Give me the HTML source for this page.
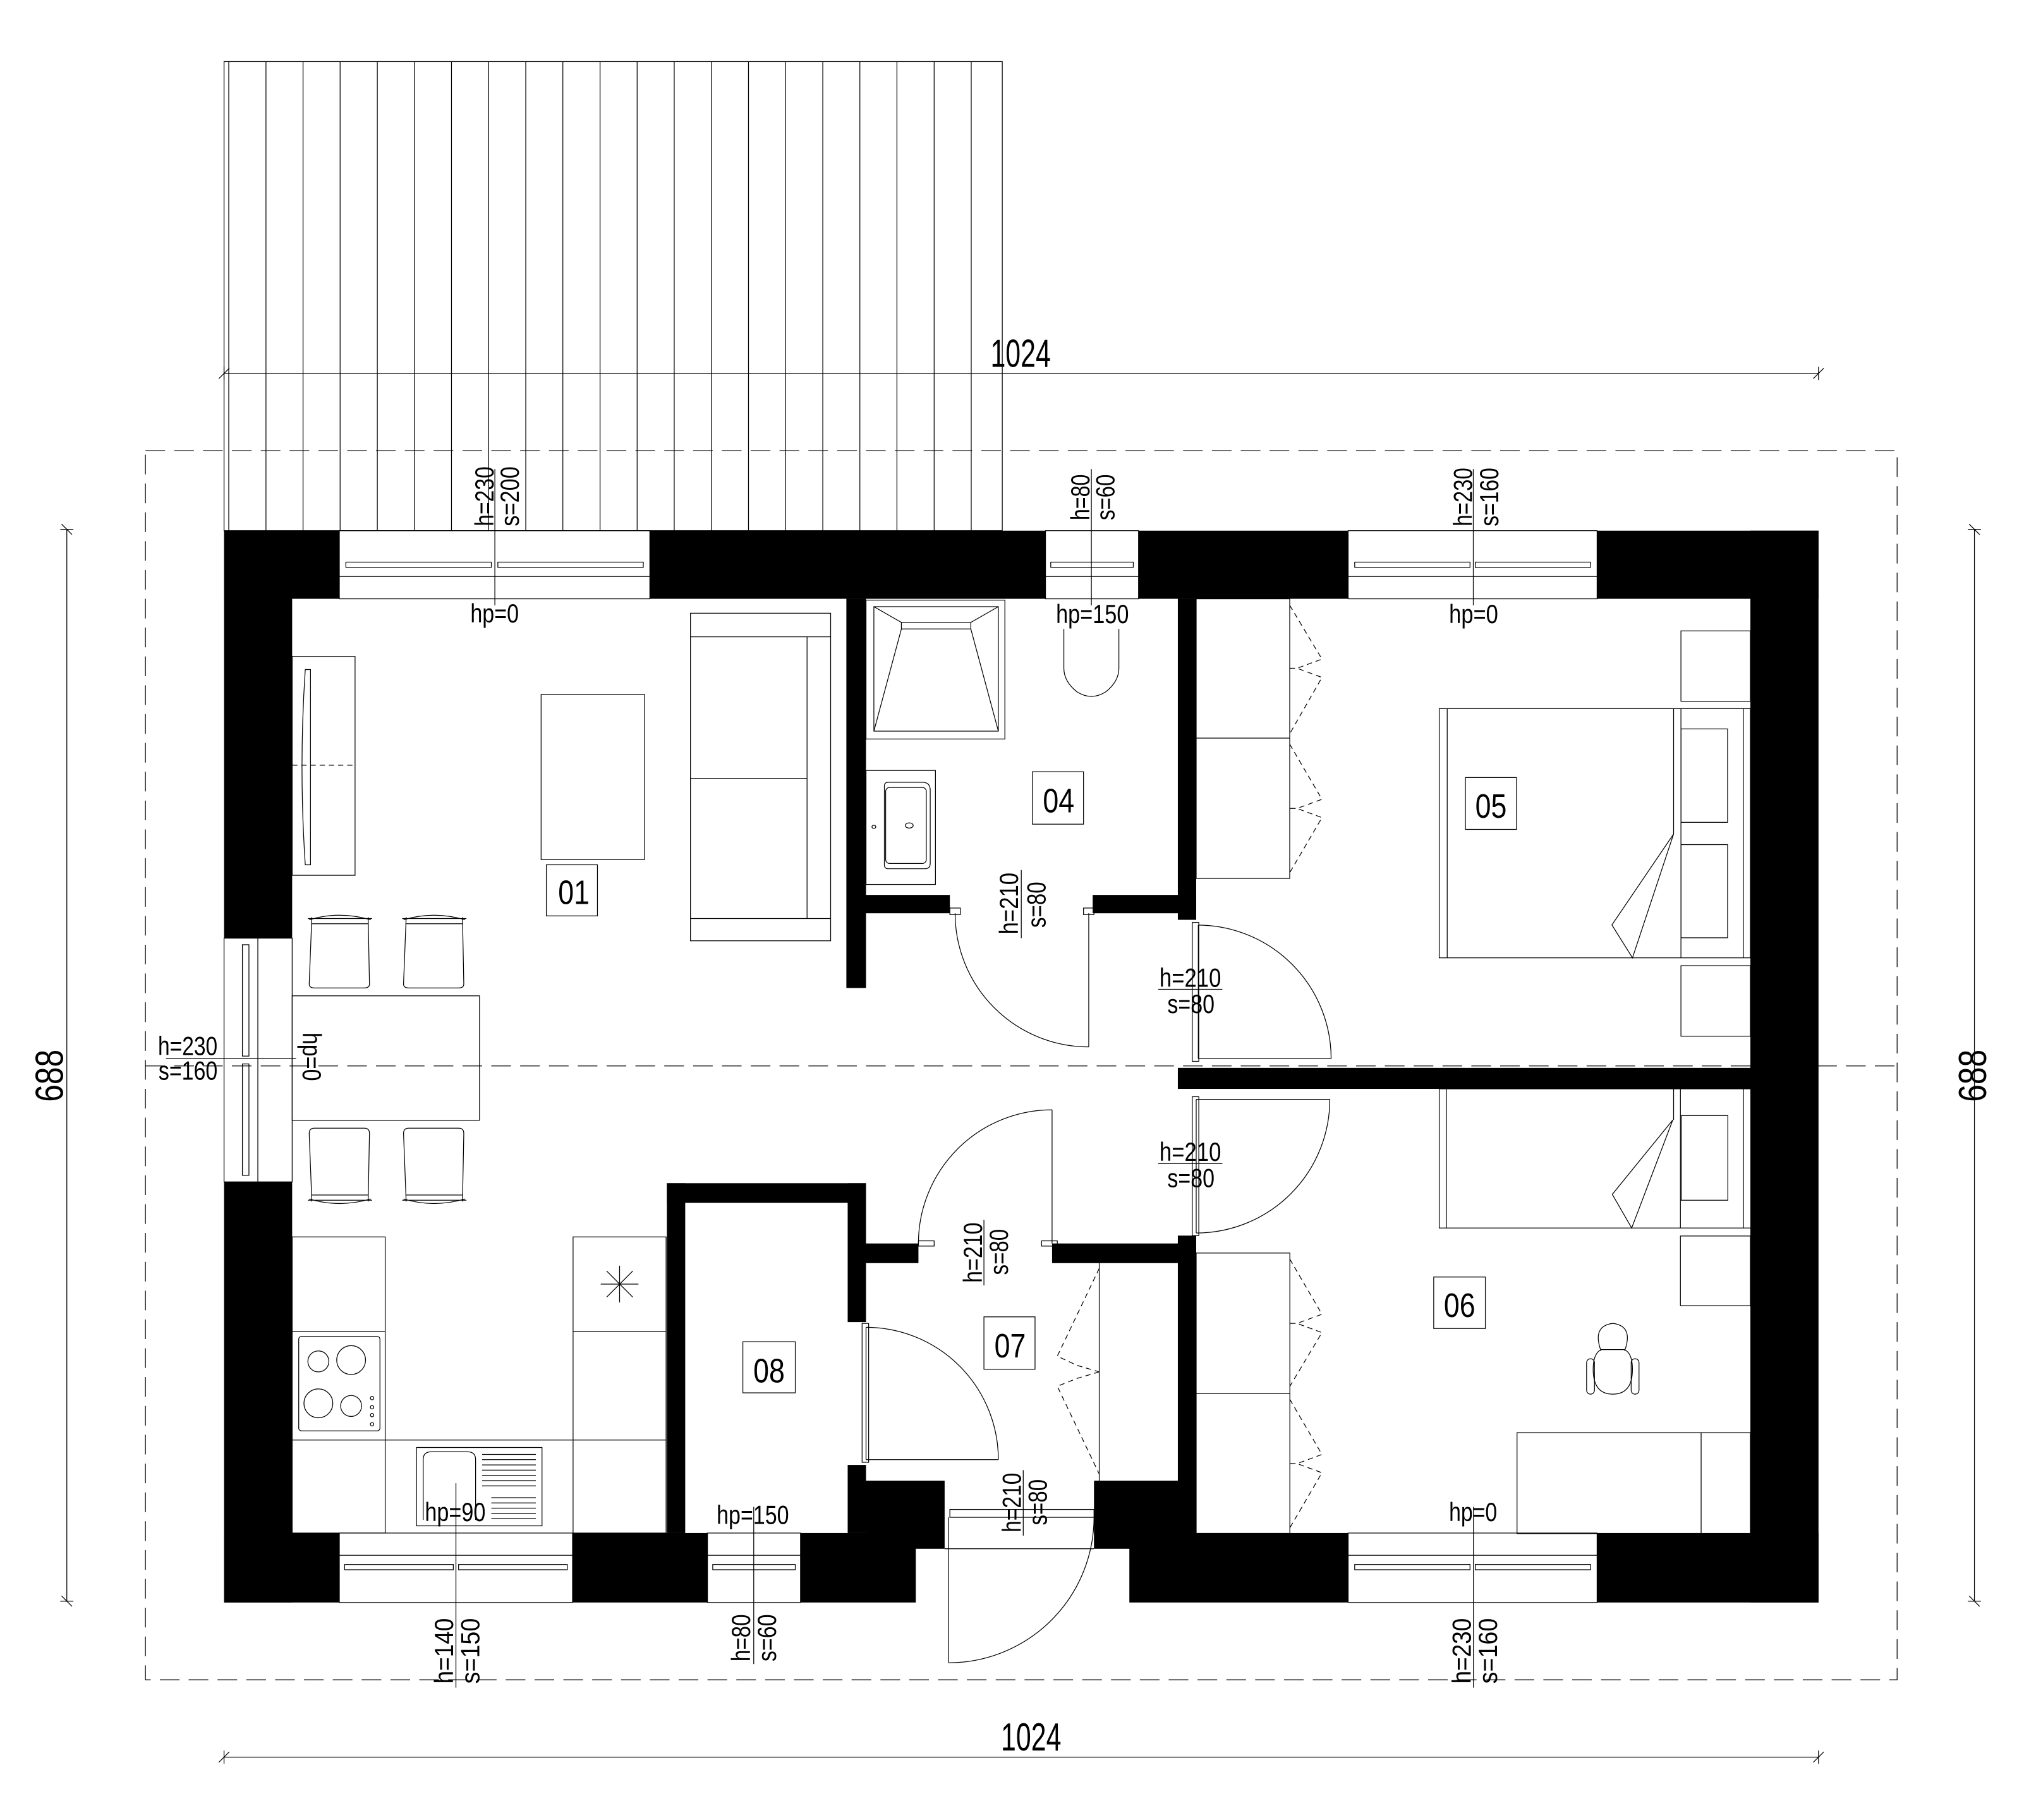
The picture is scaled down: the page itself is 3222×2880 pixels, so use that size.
<!DOCTYPE html>
<html><head><meta charset="utf-8"><style>
html,body{margin:0;padding:0;background:#fff;}
svg{display:block;}
text{font-family:"Liberation Sans Narrow","Liberation Sans",sans-serif;fill:#000;}
</style></head><body>
<svg xmlns="http://www.w3.org/2000/svg" width="3222" height="2880" viewBox="0 0 1554 1389" preserveAspectRatio="none">
<rect width="1554" height="1389" fill="#fff"/>
<g fill="none" stroke="#000" stroke-width="0.6">
<!-- terrace -->
<rect x="171" y="47" width="594" height="358"/>
<g id="tl">
<line x1="174.6" y1="47" x2="174.6" y2="405"/><line x1="203" y1="47" x2="203" y2="405"/><line x1="231.3" y1="47" x2="231.3" y2="405"/><line x1="259.6" y1="47" x2="259.6" y2="405"/><line x1="288" y1="47" x2="288" y2="405"/><line x1="316.3" y1="47" x2="316.3" y2="405"/><line x1="344.6" y1="47" x2="344.6" y2="405"/><line x1="373" y1="47" x2="373" y2="405"/><line x1="401.3" y1="47" x2="401.3" y2="405"/><line x1="429.6" y1="47" x2="429.6" y2="405"/><line x1="458" y1="47" x2="458" y2="405"/><line x1="486.3" y1="47" x2="486.3" y2="405"/><line x1="514.6" y1="47" x2="514.6" y2="405"/><line x1="543" y1="47" x2="543" y2="405"/><line x1="571.3" y1="47" x2="571.3" y2="405"/><line x1="599.6" y1="47" x2="599.6" y2="405"/><line x1="628" y1="47" x2="628" y2="405"/><line x1="656.3" y1="47" x2="656.3" y2="405"/><line x1="684.6" y1="47" x2="684.6" y2="405"/><line x1="713" y1="47" x2="713" y2="405"/><line x1="741.3" y1="47" x2="741.3" y2="405"/>
</g>
<!-- dims -->
<line x1="171" y1="285" x2="1388" y2="285"/>
<line x1="171" y1="280" x2="171" y2="290"/><line x1="167" y1="289" x2="175" y2="281"/>
<line x1="1388" y1="280" x2="1388" y2="290"/><line x1="1384" y1="289" x2="1392" y2="281"/>
<line x1="171" y1="1341" x2="1388" y2="1341"/>
<line x1="171" y1="1336" x2="171" y2="1346"/><line x1="167" y1="1345" x2="175" y2="1337"/>
<line x1="1388" y1="1336" x2="1388" y2="1346"/><line x1="1384" y1="1345" x2="1392" y2="1337"/>
<line x1="51" y1="404" x2="51" y2="1222"/>
<line x1="46" y1="404" x2="56" y2="404"/><line x1="47" y1="400" x2="55" y2="408"/>
<line x1="46" y1="1222" x2="56" y2="1222"/><line x1="47" y1="1218" x2="55" y2="1226"/>
<line x1="1507" y1="404" x2="1507" y2="1222"/>
<line x1="1502" y1="404" x2="1512" y2="404"/><line x1="1503" y1="400" x2="1511" y2="408"/>
<line x1="1502" y1="1222" x2="1512" y2="1222"/><line x1="1503" y1="1218" x2="1511" y2="1226"/>
<rect x="111" y="344" width="1337" height="938" stroke-dasharray="15,7"/>
<line x1="111" y1="813.5" x2="1448" y2="813.5" stroke-dasharray="15,7"/>
</g>
<!-- walls -->
<g fill="#000">
<rect x="171" y="405" width="88" height="52"/>
<rect x="496" y="405" width="302" height="52"/>
<rect x="869" y="405" width="160" height="52"/>
<rect x="1219" y="405" width="169" height="52"/>
<rect x="171" y="405" width="52" height="311"/>
<rect x="171" y="902" width="52" height="321"/>
<rect x="1336" y="405" width="52" height="818"/>
<rect x="171" y="1170" width="88" height="53"/>
<rect x="437" y="1170" width="103" height="53"/>
<rect x="611" y="1170" width="88" height="53"/>
<rect x="862" y="1170" width="167" height="53"/>
<rect x="1219" y="1170" width="169" height="53"/>
<rect x="509" y="903" width="152" height="15"/>
<rect x="509" y="903" width="14" height="267"/>
<rect x="647" y="903" width="14" height="106"/>
<rect x="647" y="1118" width="14" height="52"/>
<rect x="661" y="949" width="40" height="15"/>
<rect x="803" y="949" width="110" height="15"/>
<rect x="661" y="1130" width="60" height="52"/>
<rect x="835" y="1130" width="78" height="52"/>
<rect x="646" y="457" width="15" height="297"/>
<rect x="661" y="683" width="64" height="14"/>
<rect x="834" y="683" width="79" height="14"/>
<rect x="899" y="457" width="14" height="245"/>
<rect x="899" y="815" width="437" height="16"/>
<rect x="899" y="943" width="14" height="239"/>
</g>
<g fill="none" stroke="#000" stroke-width="0.6">
<!-- windows top -->
<rect x="259" y="405" width="237" height="52"/><line x1="259" y1="440" x2="496" y2="440"/>
<rect x="264" y="429" width="111" height="4"/><rect x="380" y="429" width="111" height="4"/>
<rect x="798" y="405" width="71" height="52"/><line x1="798" y1="440" x2="869" y2="440"/>
<rect x="802" y="429" width="63" height="4"/>
<rect x="1029" y="405" width="190" height="52"/><line x1="1029" y1="440" x2="1219" y2="440"/>
<rect x="1034" y="429" width="88" height="4"/><rect x="1126" y="429" width="88" height="4"/>
<!-- windows bottom -->
<rect x="259" y="1170" width="178" height="53"/><line x1="259" y1="1187" x2="437" y2="1187"/>
<rect x="263" y="1194" width="83" height="4"/><rect x="350" y="1194" width="83" height="4"/>
<rect x="540" y="1170" width="71" height="53"/><line x1="540" y1="1187" x2="611" y2="1187"/>
<rect x="544" y="1194" width="63" height="4"/>
<rect x="1029" y="1170" width="190" height="53"/><line x1="1029" y1="1187" x2="1219" y2="1187"/>
<rect x="1034" y="1194" width="88" height="4"/><rect x="1126" y="1194" width="88" height="4"/>
<!-- left window -->
<rect x="171" y="716" width="52" height="186"/><line x1="196.8" y1="716" x2="196.8" y2="902"/>
<rect x="185" y="721" width="5" height="85"/><rect x="185" y="812" width="5" height="85"/>
<!-- dim lines for windows -->
<line x1="377.7" y1="358" x2="377.7" y2="462"/>
<line x1="833" y1="358" x2="833" y2="462"/>
<line x1="1124.5" y1="358" x2="1124.5" y2="462"/>
<line x1="348" y1="1132" x2="348" y2="1288"/>
<line x1="575.3" y1="1150" x2="575.3" y2="1270"/>
<line x1="1124.6" y1="1150" x2="1124.6" y2="1288"/>
<line x1="126.7" y1="807.7" x2="226" y2="807.7"/>
<!-- door labels lines -->
<line x1="779.5" y1="664" x2="779.5" y2="716"/>
<line x1="751" y1="931" x2="751" y2="981"/>
<line x1="781" y1="1122" x2="781" y2="1172"/>
<line x1="884" y1="755" x2="933" y2="755"/>
<line x1="884" y1="888" x2="933" y2="888"/>
<!-- doors -->
<line x1="831" y1="697" x2="831" y2="799"/><path d="M729,697 A102,102 0 0 0 831,799"/>
<rect x="725" y="693" width="8" height="5"/><rect x="827" y="693" width="8" height="5"/>
<line x1="803" y1="949" x2="803" y2="847"/><path d="M701,949 A102,102 0 0 1 803,847"/>
<rect x="701" y="947" width="12" height="4"/><rect x="795" y="947" width="12" height="4"/>
<line x1="724" y1="1158" x2="724" y2="1269"/><path d="M835,1158 A111,111 0 0 1 724,1269"/>
<line x1="721" y1="1182" x2="835" y2="1182"/>
<rect x="725" y="1152" width="110" height="6"/>
<line x1="661" y1="1013" x2="661" y2="1114"/><path d="M661,1013 A101,101 0 0 1 762,1114"/>
<line x1="661" y1="1114" x2="762" y2="1114"/>
<rect x="658" y="1010" width="5" height="106"/>
<line x1="914.6" y1="706" x2="914.6" y2="808"/><path d="M914.6,706 A102,102 0 0 1 1016,808"/>
<line x1="914.6" y1="808" x2="1016" y2="808"/>
<rect x="910" y="704" width="5" height="106"/>
<line x1="913" y1="839" x2="913" y2="941"/><path d="M1015,839 A102,102 0 0 1 913,941"/>
<line x1="913" y1="839" x2="1015" y2="839"/>
<rect x="910" y="837" width="5" height="106"/>
<!-- living -->
<rect x="223" y="501" width="48" height="167"/>
<line x1="223" y1="584" x2="271" y2="584" stroke-dasharray="4,3"/>
<path d="M233,511 L237,511 L237,660 L233,660 Q228,585 233,511Z"/>
<rect x="413" y="530" width="79" height="126"/>
<rect x="527" y="468" width="107" height="250"/>
<line x1="616" y1="486" x2="616" y2="701"/>
<line x1="527" y1="486" x2="634" y2="486"/><line x1="527" y1="594" x2="616" y2="594"/><line x1="527" y1="701" x2="634" y2="701"/>
<rect x="417" y="660" width="39" height="39"/>
<!-- dining -->
<rect x="223" y="760" width="143" height="95"/>
<path d="M236,702 Q259,695 283,702 M235,701 L284,701 M238,705 L281,705 M238,700 L236,751 Q236,754 240,754 L278,754 Q282,754 282,751 L281,700"/>
<path d="M308,702 Q331,695 355,702 M307,701 L356,701 M310,705 L353,705 M310,700 L308,751 Q308,754 312,754 L350,754 Q354,754 354,751 L353,700"/>
<path d="M236,915 Q259,922 283,915 M235,916 L284,916 M238,912 L281,912 M238,917 L236,865 Q236,861 240,861 L278,861 Q282,861 282,865 L281,917"/>
<path d="M308,915 Q331,922 355,915 M307,916 L356,916 M310,912 L353,912 M310,917 L308,865 Q308,861 312,861 L350,861 Q354,861 354,865 L353,917"/>
<!-- kitchen -->
<rect x="223" y="944" width="71" height="226"/>
<line x1="223" y1="1016" x2="294" y2="1016"/><line x1="223" y1="1099" x2="294" y2="1099"/>
<line x1="294" y1="1099" x2="437" y2="1099"/>
<rect x="228" y="1020" width="62" height="72" rx="2"/>
<ellipse cx="243" cy="1039" rx="8" ry="8"/><ellipse cx="268" cy="1038" rx="11" ry="11"/>
<ellipse cx="243" cy="1071" rx="11" ry="11"/><ellipse cx="268" cy="1073" rx="8" ry="8"/>
<circle cx="284" cy="1067" r="1.3"/><circle cx="284" cy="1074" r="1.3"/><circle cx="284" cy="1080" r="1.3"/><circle cx="284" cy="1087" r="1.3"/>
<rect x="437.4" y="944" width="71" height="226"/>
<line x1="437.4" y1="1016" x2="508.4" y2="1016"/><line x1="437.4" y1="1099" x2="508.4" y2="1099"/>
<path d="M472.9,966 L472.9,994 M458.5,980 L487.3,980 M463,970 L483,990 M463,990 L483,970"/>
<rect x="317.9" y="1104.7" width="95.8" height="59.8"/>
<path d="M323,1160 L323,1114 Q323,1108 329,1108 L357,1108 Q363,1108 363,1114 L363,1160"/>
<path d="M368,1110H409M368,1114H409M368,1118H409M368,1122H409M368,1126H409M368,1130H409M368,1134H409M375,1143H409M375,1147H409M375,1151H409M375,1155H409M375,1159H409"/>
<!-- bath 04 -->
<rect x="661" y="458" width="106" height="106"/>
<rect x="667" y="463" width="95" height="95"/>
<path d="M667,463 L688,475 L741,475 L762,463 M688,475 L688,480 L741,480 L741,475 M688,480 L667,558 M741,480 L762,558"/>
<rect x="661" y="588" width="53" height="87"/>
<path d="M675,600 Q675,597 678,597 L704,597 Q710,597 710,603 L710,659 Q710,663 706,663 L678,663 Q675,663 675,660Z"/>
<rect x="676" y="601" width="31" height="58" rx="3"/>
<ellipse cx="694" cy="630" rx="3" ry="2"/><ellipse cx="667" cy="631" rx="1.5" ry="1.2"/>
<path d="M812,480 L812,510 Q812,520 822,528 Q833,535 844,528 Q854,520 854,510 L854,480"/>
<rect x="788" y="589" width="39" height="40"/>
<!-- bedroom 05 -->
<rect x="913" y="457" width="71.4" height="213.4"/>
<line x1="913" y1="563.3" x2="984.4" y2="563.3"/>
<g stroke-dasharray="4,3">
<path d="M984.4,462 L1009,503 L990,510 L984.4,510 M984.4,510 L990,510 L1009,517 L984.4,560"/>
<path d="M984.4,568 L1009,610 L990,617 L984.4,617 M984.4,617 L990,617 L1009,624 L984.4,666"/>
</g>
<rect x="1098.5" y="540.8" width="237.5" height="190.2"/>
<line x1="1104.6" y1="540.8" x2="1104.6" y2="731"/>
<line x1="1277.4" y1="540.8" x2="1277.4" y2="636.5"/><line x1="1283" y1="540.8" x2="1283" y2="731"/>
<line x1="1330.6" y1="540.8" x2="1330.6" y2="731"/>
<rect x="1283" y="556.3" width="35.6" height="71.3"/><rect x="1283" y="644.6" width="35.6" height="71.1"/>
<path d="M1277.4,636.5 L1230.3,705.9 L1246,731 L1277.4,636.5"/>
<rect x="1283" y="481.5" width="53" height="53.7"/>
<rect x="1283" y="737" width="53" height="53.8"/>
<rect x="1118.5" y="593.4" width="39" height="39.6"/>
<!-- bedroom 06 -->
<rect x="913" y="956.3" width="71.5" height="214"/>
<line x1="913" y1="1063.5" x2="984.5" y2="1063.5"/>
<g stroke-dasharray="4,3">
<path d="M984.5,961 L1009,1003 L990,1010 L984.5,1010 M984.5,1010 L990,1010 L1009,1017 L984.5,1058"/>
<path d="M984.5,1068 L1009,1110 L990,1117 L984.5,1117 M984.5,1117 L990,1117 L1009,1124 L984.5,1166"/>
</g>
<rect x="1098.5" y="831" width="238" height="106.2"/>
<line x1="1104" y1="831" x2="1104" y2="937.2"/><line x1="1330.7" y1="831" x2="1330.7" y2="937.2"/>
<line x1="1277.4" y1="831" x2="1277.4" y2="854.7"/><line x1="1282.6" y1="831" x2="1282.6" y2="937.2"/>
<rect x="1283.2" y="851.4" width="35.6" height="64.6"/>
<path d="M1276.8,854.7 L1230.6,911.5 L1245.4,937.2 L1276.8,854.7"/>
<rect x="1282.6" y="943.3" width="53.4" height="53.2"/>
<rect x="1157.9" y="1093.4" width="178.1" height="77"/>
<line x1="1298.4" y1="1093.4" x2="1298.4" y2="1170.4"/>
<path d="M1222,1031 Q1215,1012 1231,1010 Q1247,1012 1240,1031"/>
<path d="M1222,1030 L1240,1030 Q1246,1033 1246,1045 Q1246,1064 1231,1064 Q1216,1064 1216,1045 Q1216,1033 1222,1030Z"/>
<rect x="1211" y="1037" width="6" height="27" rx="3"/><rect x="1245" y="1037" width="6" height="27" rx="3"/>
<rect x="1094.3" y="974.6" width="39.4" height="39.3"/>
<!-- 07 / 08 -->
<line x1="839" y1="964" x2="839" y2="1130"/>
<g stroke-dasharray="4,3">
<path d="M839,968 L807,1035 L822,1042 L839,1047 M839,1047 L822,1052 L807,1058 L839,1125"/>
</g>
<rect x="751" y="1005" width="39" height="40"/>
<rect x="567" y="1024" width="40" height="39"/>
</g>
<!-- texts -->
<text x="756" y="280" font-size="30" textLength="46" lengthAdjust="spacingAndGlyphs">1024</text>
<text x="764" y="1336" font-size="30" textLength="46" lengthAdjust="spacingAndGlyphs">1024</text>
<text transform="translate(48,841) rotate(-90)" font-size="30" textLength="40" lengthAdjust="spacingAndGlyphs">688</text>
<text transform="translate(1516,841) rotate(-90)" font-size="30" textLength="40" lengthAdjust="spacingAndGlyphs">688</text>
<g font-size="26">
<text x="426" y="690" textLength="24" lengthAdjust="spacingAndGlyphs">01</text>
<text x="796" y="620" textLength="24" lengthAdjust="spacingAndGlyphs">04</text>
<text x="1126" y="624" textLength="24" lengthAdjust="spacingAndGlyphs">05</text>
<text x="1102" y="1005" textLength="24" lengthAdjust="spacingAndGlyphs">06</text>
<text x="759" y="1036" textLength="24" lengthAdjust="spacingAndGlyphs">07</text>
<text x="575" y="1055" textLength="24" lengthAdjust="spacingAndGlyphs">08</text>
</g>
<g font-size="20">
<text x="359" y="475" textLength="37" lengthAdjust="spacingAndGlyphs">hp=0</text>
<text x="806" y="475.5" textLength="55.6" lengthAdjust="spacingAndGlyphs">hp=150</text>
<text x="1106" y="475.5" textLength="37.5" lengthAdjust="spacingAndGlyphs">hp=0</text>
<text x="324.3" y="1161" textLength="46.3" lengthAdjust="spacingAndGlyphs">hp=90</text>
<text x="547" y="1163" textLength="55.2" lengthAdjust="spacingAndGlyphs">hp=150</text>
<text x="1106" y="1161" textLength="36.7" lengthAdjust="spacingAndGlyphs">hp=0</text>
<text transform="translate(231,788) rotate(90)" textLength="37" lengthAdjust="spacingAndGlyphs">hp=0</text>
<text x="120.6" y="805.3" textLength="45.4" lengthAdjust="spacingAndGlyphs">h=230</text>
<text x="121" y="824.1" textLength="45" lengthAdjust="spacingAndGlyphs">s=160</text>
<text transform="translate(376.6,401.6) rotate(-90)" textLength="45.6" lengthAdjust="spacingAndGlyphs">h=230</text>
<text transform="translate(396,401.6) rotate(-90)" textLength="45.6" lengthAdjust="spacingAndGlyphs">s=200</text>
<text transform="translate(831.6,397) rotate(-90)" textLength="35" lengthAdjust="spacingAndGlyphs">h=80</text>
<text transform="translate(850.6,397) rotate(-90)" textLength="35" lengthAdjust="spacingAndGlyphs">s=60</text>
<text transform="translate(1123.5,401.6) rotate(-90)" textLength="44.6" lengthAdjust="spacingAndGlyphs">h=230</text>
<text transform="translate(1143.5,401.6) rotate(-90)" textLength="44.6" lengthAdjust="spacingAndGlyphs">s=160</text>
<text transform="translate(345.8,1285) rotate(-90)" textLength="50" lengthAdjust="spacingAndGlyphs">h=140</text>
<text transform="translate(365.9,1285) rotate(-90)" textLength="50" lengthAdjust="spacingAndGlyphs">s=150</text>
<text transform="translate(572.5,1268) rotate(-90)" textLength="36" lengthAdjust="spacingAndGlyphs">h=80</text>
<text transform="translate(592.3,1268) rotate(-90)" textLength="36" lengthAdjust="spacingAndGlyphs">s=60</text>
<text transform="translate(1122.6,1285) rotate(-90)" textLength="50" lengthAdjust="spacingAndGlyphs">h=230</text>
<text transform="translate(1142.6,1285) rotate(-90)" textLength="50" lengthAdjust="spacingAndGlyphs">s=160</text>
<text transform="translate(777,713) rotate(-90)" textLength="47" lengthAdjust="spacingAndGlyphs">h=210</text>
<text transform="translate(798,708) rotate(-90)" textLength="35" lengthAdjust="spacingAndGlyphs">s=80</text>
<text transform="translate(749.5,979) rotate(-90)" textLength="46" lengthAdjust="spacingAndGlyphs">h=210</text>
<text transform="translate(769.3,973) rotate(-90)" textLength="35" lengthAdjust="spacingAndGlyphs">s=80</text>
<text transform="translate(779.2,1169.5) rotate(-90)" textLength="45.5" lengthAdjust="spacingAndGlyphs">h=210</text>
<text transform="translate(799,1164) rotate(-90)" textLength="35" lengthAdjust="spacingAndGlyphs">s=80</text>
<text x="885" y="753" textLength="47" lengthAdjust="spacingAndGlyphs">h=210</text>
<text x="891" y="773" textLength="36" lengthAdjust="spacingAndGlyphs">s=80</text>
<text x="885" y="886" textLength="47" lengthAdjust="spacingAndGlyphs">h=210</text>
<text x="891" y="906" textLength="36" lengthAdjust="spacingAndGlyphs">s=80</text>
</g>
</svg>
</body></html>
